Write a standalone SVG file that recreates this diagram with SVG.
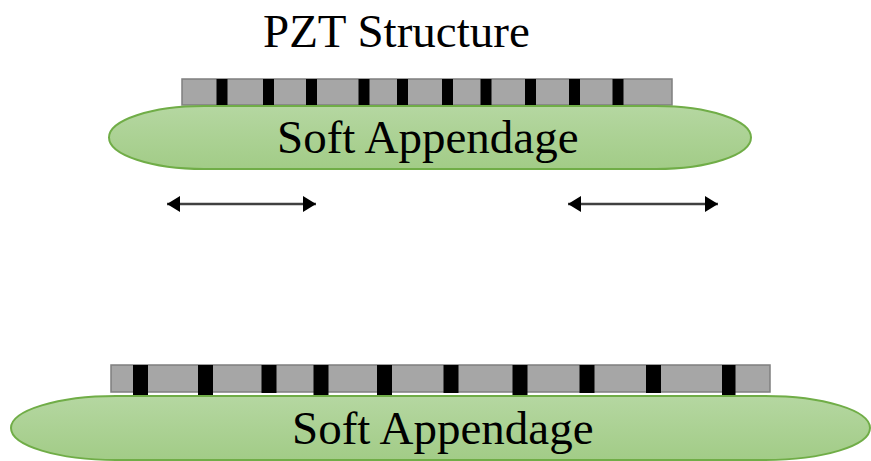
<svg xmlns="http://www.w3.org/2000/svg" width="871" height="461" viewBox="0 0 871 461">
<defs>
<linearGradient id="gr" x1="0" y1="0" x2="0" y2="1">
<stop offset="0" stop-color="#b5d7a1"/>
<stop offset="1" stop-color="#a2cc87"/>
</linearGradient>
<marker id="ah" markerUnits="userSpaceOnUse" markerWidth="14" markerHeight="17" refX="13" refY="8" orient="auto-start-reverse" viewBox="0 0 14 17">
<path d="M0,0 L13,8 L0,16 z" fill="#000"/>
</marker>
<style>
.label{font-size:47px;fill:#000}
.app{fill:url(#gr);stroke:#70ad47;stroke-width:2}
.strip{fill:#a6a6a6;stroke:#7f7f7f;stroke-width:1.5}
.bar{fill:#000}
.arr{stroke:#404040;stroke-width:2.5;fill:none}
</style>
</defs>
<rect width="871" height="461" fill="#fff"/>
<g id="title"><text class="label" font-family="Liberation Serif, DejaVu Serif, serif" x="263" y="47">PZT Structure</text></g>

<g id="pzt-top">
<rect class="strip" x="182" y="79" width="490" height="26"/>
<rect class="bar" x="216.5" y="79" width="11" height="27"/>
<rect class="bar" x="263" y="79" width="11" height="27"/>
<rect class="bar" x="306" y="79" width="11" height="27"/>
<rect class="bar" x="358.5" y="79" width="11" height="27"/>
<rect class="bar" x="397" y="79" width="11" height="27"/>
<rect class="bar" x="442" y="79" width="11" height="27"/>
<rect class="bar" x="480.5" y="79" width="11" height="27"/>
<rect class="bar" x="525" y="79" width="11" height="27"/>
<rect class="bar" x="569" y="79" width="11" height="27"/>
<rect class="bar" x="612.5" y="79" width="11" height="27"/>
</g>
<g id="appendage-top">
<rect class="app" x="109" y="106" width="642" height="63" rx="95" ry="31.5"/>
<text class="label" font-family="Liberation Serif, DejaVu Serif, serif" x="277" y="153">Soft Appendage</text>
</g>

<g id="pzt-bottom">
<rect class="strip" x="111" y="365" width="659" height="27"/>
<rect class="bar" x="133" y="365" width="15" height="30"/>
<rect class="bar" x="198" y="365" width="15" height="30"/>
<rect class="bar" x="261.5" y="365" width="15" height="28"/>
<rect class="bar" x="313.5" y="365" width="15" height="30"/>
<rect class="bar" x="377" y="365" width="15" height="30"/>
<rect class="bar" x="443.5" y="365" width="15" height="28"/>
<rect class="bar" x="512.5" y="365" width="15" height="30"/>
<rect class="bar" x="579.5" y="365" width="15" height="28"/>
<rect class="bar" x="646" y="365" width="15" height="28"/>
<rect class="bar" x="722" y="365" width="13.5" height="30"/>
</g>
<g id="appendage-bottom">
<rect class="app" x="11" y="396" width="859" height="64" rx="105" ry="32"/>
<text class="label" font-family="Liberation Serif, DejaVu Serif, serif" x="292" y="444">Soft Appendage</text>
</g>

<g id="connectors">
<line class="arr" x1="167" y1="204" x2="316" y2="204" marker-start="url(#ah)" marker-end="url(#ah)"/>
<line class="arr" x1="568" y1="204" x2="718" y2="204" marker-start="url(#ah)" marker-end="url(#ah)"/>
</g>
</svg>
